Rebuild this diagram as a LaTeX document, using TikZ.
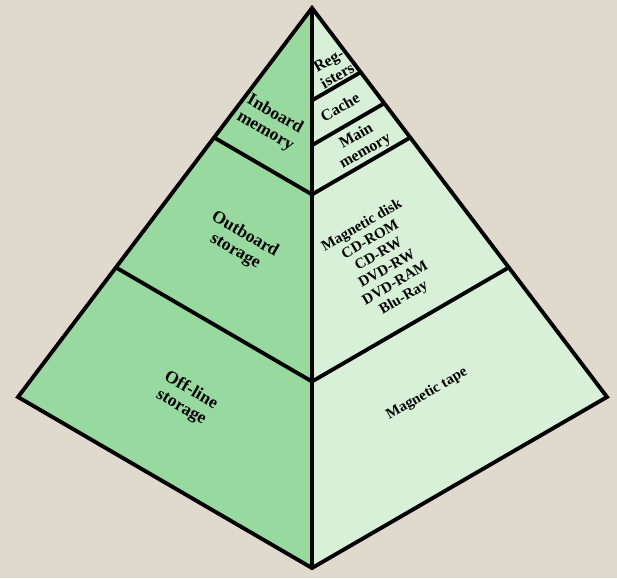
\documentclass[tikz,border=0pt]{standalone}
\usepackage{fontspec}
\setmainfont{Liberation Serif}
\usetikzlibrary{calc}

\definecolor{paper}{RGB}{224,217,206}
\definecolor{darkface}{RGB}{152,217,160}
\definecolor{lightface}{RGB}{216,240,216}

\begin{document}
\begin{tikzpicture}[
  x=0.02cm, y=-0.02cm,
  edge/.style={line width=2.2pt, line join=miter, line cap=round},
  llabel/.style={font=\fontsize{10}{11}\selectfont\bfseries, align=center,
    rotate=-30, inner sep=0pt},
  rlabel/.style={font=\fontsize{9}{10}\selectfont\bfseries, align=center,
    rotate=30, inner sep=0pt},
  slabel/.style={font=\fontsize{8.5}{9.5}\selectfont\bfseries, align=center,
    rotate=30, inner sep=0pt},
]

%── Hintergrund ───────────────────────────────────────────────────────────────

\fill[paper] (0,0) rectangle (617,578);
\useasboundingbox (0,0) rectangle (617,578);

%── Ecken der Pyramide ────────────────────────────────────────────────────────

\coordinate (apex) at (312,8);
\coordinate (lft)  at (18,397);
\coordinate (rgt)  at (607,397);
\coordinate (bot)  at (312,568);

\fill[darkface]  (apex) -- (lft) -- (bot) -- cycle;
\fill[lightface] (apex) -- (rgt) -- (bot) -- cycle;

% Schichtgrenzen links
\draw[edge] ($(apex)!0.333!(lft)$) -- ($(apex)!0.333!(bot)$);
\draw[edge] ($(apex)!0.667!(lft)$) -- ($(apex)!0.667!(bot)$);

% Schichtgrenzen rechts
\draw[edge] ($(apex)!0.165!(bot)$) -- ($(apex)!0.165!(rgt)$);
\draw[edge] ($(apex)!0.245!(bot)$) -- ($(apex)!0.245!(rgt)$);
\draw[edge] ($(apex)!0.333!(bot)$) -- ($(apex)!0.333!(rgt)$);
\draw[edge] ($(apex)!0.667!(bot)$) -- ($(apex)!0.667!(rgt)$);

\draw[edge] (apex) -- (lft) -- (bot) -- (rgt) -- cycle;
\draw[edge] (apex) -- (bot);

%── Beschriftung links ────────────────────────────────────────────────────────

\node[llabel] (inboard)  at (270,123) {Inboard\\memory};
\node[llabel] (outboard) at (240,243) {Outboard\\storage};
\node[llabel] (offline)  at (186,399) {Off-line\\storage};

%── Beschriftung rechts ───────────────────────────────────────────────────────

\node[rlabel] (regs)    at (333,68)  {Reg-\\isters};
\node[rlabel] (cache)   at (340,107) {Cache};
\node[rlabel] (mainmem) at (361,144) {Main\\memory};
\node[slabel] (disks)   at (383,262)
  {Magnetic disk\\CD-ROM\\CD-RW\\DVD-RW\\DVD-RAM\\Blu-Ray};
\node[slabel] (tape)    at (427,394) {Magnetic tape};

\end{tikzpicture}
\end{document}
